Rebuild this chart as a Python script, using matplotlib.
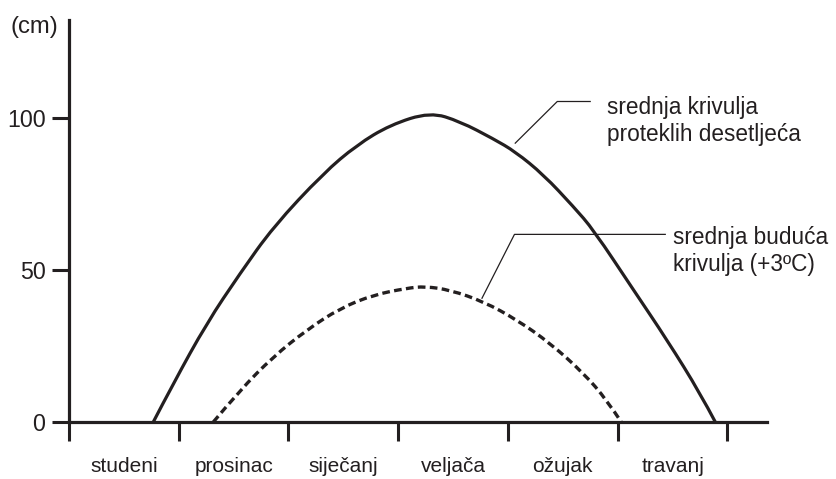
import numpy as np
import matplotlib
matplotlib.use('Agg')
import matplotlib.pyplot as plt
from matplotlib import font_manager
from matplotlib.path import Path
from matplotlib.patches import PathPatch

# snow depth (cm) through the winter months
months = ['studeni', 'prosinac', 'siječanj', 'veljača', 'ožujak', 'travanj']

# x in month units (0 = start of studeni)
past_x = [0.768, 0.951, 1.255, 1.559, 1.862, 2.318, 2.623, 2.926,
          3.291, 3.564, 3.868, 4.066, 4.324, 4.597, 4.779, 5.144, 5.449, 5.752, 5.889]
past_y = [0.0, 12.7, 32.5, 48.9, 64.2, 81.8, 91.1, 97.7,
          101.9, 98.8, 93.1, 88.9, 81.3, 70.8, 63.2, 43.4, 27.0, 9.4, 0.0]

future_x = [1.315, 1.559, 1.862, 2.167, 2.470, 2.774, 3.078, 3.245, 3.473,
            3.777, 4.081, 4.385, 4.690, 4.901, 5.032]
future_y = [0.0, 10.5, 21.5, 30.3, 37.4, 41.8, 44.0, 44.6, 43.4,
            39.6, 33.6, 25.9, 16.0, 7.2, 0.0]

yticks = [0, 50, 100]

ink = '#231f20'


def smooth_path(xs, ys):
    # quadratic bezier through the read points (points act as control points)
    p = np.column_stack([xs, ys])
    verts = [p[0]]
    codes = [Path.MOVETO]
    for i in range(1, len(p) - 1):
        end = p[-1] if i == len(p) - 2 else (p[i] + p[i + 1]) / 2
        verts += [p[i], end]
        codes += [Path.CURVE3, Path.CURVE3]
    return Path(verts, codes)


# narrow font if present, otherwise regular one a bit smaller
names = {f.name for f in font_manager.fontManager.ttflist}
if 'Liberation Sans Narrow' in names:
    fam, k = 'Liberation Sans Narrow', 1.0
else:
    fam, k = 'Liberation Sans', 0.86
plt.rcParams['font.family'] = [fam, 'DejaVu Sans']

fig = plt.figure(figsize=(8.36, 4.79), dpi=100)
ax = fig.add_axes([69 / 836, 57 / 479, 698 / 836, 402 / 479])

ax.add_patch(PathPatch(smooth_path(past_x, past_y), fill=False, ec=ink, lw=2.3,
                       capstyle='butt', clip_on=False))
ax.add_patch(PathPatch(smooth_path(future_x, future_y), fill=False, ec=ink, lw=2.4,
                       linestyle=(0, (2.3, 1.3)), clip_on=False))

ax.set_xlim(0, 6.36)
ax.set_ylim(0, 132.2)

for s in ['top', 'right']:
    ax.spines[s].set_visible(False)
for s in ['left', 'bottom']:
    ax.spines[s].set_linewidth(2.3)
    ax.spines[s].set_color(ink)

ax.set_yticks(yticks)
ax.set_yticklabels([str(v) for v in yticks])
ax.tick_params(axis='y', length=12, width=2.2, color=ink, pad=5,
               labelsize=19.5 * k, labelcolor=ink)

ax.set_xticks(np.arange(0, 7))
ax.set_xticklabels([])
ax.set_xticks(np.arange(len(months)) + 0.5, minor=True)
ax.set_xticklabels(months, minor=True)
ax.tick_params(axis='x', which='major', length=13.7, width=2.2, color=ink)
ax.tick_params(axis='x', which='minor', length=0, pad=25,
               labelsize=17.5 * k, labelcolor=ink)

ax.text(-0.319, 129.9, '(cm)', ha='center', va='center', fontsize=20 * k,
        color=ink, clip_on=False)

# leader lines and labels
ax.plot([4.066, 4.449, 4.749], [91.7, 105.4, 105.4], color=ink, lw=0.9, clip_on=False)
ax.text(4.904, 99.0, 'srednja krivulja\nproteklih desetljeća', ha='left', va='center',
        fontsize=19 * k, color=ink, linespacing=1.25)

ax.plot([3.763, 4.059, 5.433], [40.7, 61.7, 61.7], color=ink, lw=0.9, clip_on=False)
ax.text(5.506, 56.3, 'srednja buduća\nkrivulja (+3ºC)', ha='left', va='center',
        fontsize=19 * k, color=ink, linespacing=1.25, clip_on=False)

fig.savefig('out.png', dpi=100)
